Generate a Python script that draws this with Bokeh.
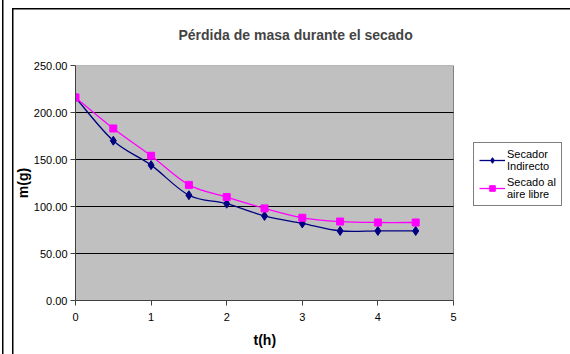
from bokeh.plotting import figure
from bokeh.models import (Range1d, FixedTicker, NumeralTickFormatter, Legend, LegendItem,
                          ColumnDataSource, Title)
from bokeh.embed import file_html
from bokeh.resources import INLINE

t_h = [0, 0.5, 1, 1.5, 2, 2.5, 3, 3.5, 4, 4.5]
secador_indirecto = [216, 170, 144, 112, 103, 90, 82, 74, 74, 74]
secado_aire_libre = [216, 183, 154, 123, 110, 98, 88, 84, 83, 83]
x_ticks = [0, 1, 2, 3, 4, 5]
y_ticks = [0, 50, 100, 150, 200, 250]
series_names = ["Secador\nIndirecto", "Secado al\naire libre"]
title_text = "Pérdida de masa durante el secado"
x_label = "t(h)"
y_label = "m(g)"

FONT = "Liberation Sans"

# layout (pixels)
W, H = 570, 354
F_LEFT, F_TOP, F_BOTTOM = 75, 65, 300
AXIS_RIGHT = 453          # pixel where x = last tick
F_RIGHT = 565             # frame extends right to hold the legend

x_min, x_max = x_ticks[0], x_ticks[-1]
x_end = x_min + (x_max - x_min) * (F_RIGHT - F_LEFT) / (AXIS_RIGHT - F_LEFT)

p = figure(width=W, height=H, output_backend="svg", toolbar_location=None,
           x_range=Range1d(x_min, x_end), y_range=Range1d(y_ticks[0], y_ticks[-1]),
           min_border_left=F_LEFT, min_border_right=W - F_RIGHT,
           min_border_top=F_TOP, min_border_bottom=H - F_BOTTOM)
p.background_fill_color = "white"
p.border_fill_alpha = 0
p.outline_line_color = None
p.styles = {
    "background-image": "linear-gradient(black, black), linear-gradient(black, black), "
                        "linear-gradient(black, black)",
    "background-size": "1.5px 100%, 1.5px 100%, 100% 1.5px",
    "background-position": "2px 0px, 12px 8px, 12px 8px",
    "background-repeat": "no-repeat",
    "background-color": "white",
}

p.title.text = title_text
p.title.text_font = FONT
p.title.text_font_size = "14px"
p.title.text_font_style = "bold"
p.title.align = "left"
p.title.offset = 103
p.title.standoff = 45

p.xgrid.visible = False
p.ygrid.visible = False

# plot area and horizontal gridlines
p.quad(left=[x_min], right=[x_max], bottom=[y_ticks[0]], top=[y_ticks[-1]],
       fill_color="#C0C0C0", line_color="#808080", line_width=1)
p.segment(x0=[x_min] * (len(y_ticks) - 2), x1=[x_max] * (len(y_ticks) - 2),
          y0=y_ticks[1:-1], y1=y_ticks[1:-1], line_color="black", line_width=1)

for ax in (p.xaxis[0], p.yaxis[0]):
    ax.axis_line_color = "#404040"
    ax.major_tick_line_color = "#404040"
    ax.major_tick_out = 5
    ax.major_tick_in = 0
    ax.minor_tick_out = 0
    ax.minor_tick_in = 0
    ax.major_label_text_font = FONT
    ax.major_label_text_font_size = "11px"
    ax.major_label_text_color = "black"
    ax.axis_label_text_font = FONT
    ax.axis_label_text_font_size = "14px"
    ax.axis_label_text_font_style = "bold"
    ax.axis_label_text_color = "black"

p.xaxis.ticker = FixedTicker(ticks=x_ticks)
p.xaxis.bounds = (x_min, x_max)
p.yaxis.ticker = FixedTicker(ticks=y_ticks)
p.yaxis.formatter = NumeralTickFormatter(format="0.00")
p.yaxis.axis_label = y_label
p.xaxis.major_label_standoff = 7
p.yaxis.major_label_standoff = 3
p.yaxis.axis_label_standoff = 0

# x-axis title centred under the plot area (0..5), not the whole frame
p.add_layout(Title(text=x_label, text_font=FONT, text_font_size="14px", text_font_style="bold",
                   text_color="black", align="left", offset=178, standoff=12), "below")


def smooth_source(xs, ys):
    # Excel-like smoothed line drawn through the data points
    n = len(xs)
    d = dict(x0=[], y0=[], x1=[], y1=[], cx0=[], cy0=[], cx1=[], cy1=[])
    for i in range(n - 1):
        xp, yp = (xs[i - 1], ys[i - 1]) if i > 0 else (xs[i], ys[i])
        xn, yn = (xs[i + 2], ys[i + 2]) if i + 2 < n else (xs[i + 1], ys[i + 1])
        d["x0"].append(xs[i]); d["y0"].append(ys[i])
        d["x1"].append(xs[i + 1]); d["y1"].append(ys[i + 1])
        d["cx0"].append(xs[i] + (xs[i + 1] - xp) / 6)
        d["cy0"].append(ys[i] + (ys[i + 1] - yp) / 6)
        d["cx1"].append(xs[i + 1] - (xn - xs[i]) / 6)
        d["cy1"].append(ys[i + 1] - (yn - ys[i]) / 6)
    return ColumnDataSource(d)


colors = ["#000080", "#FF00FF"]
markers = ["diamond", "square"]
sizes = [9, 7]
items = []
for ys, name, c, m, s in zip([secador_indirecto, secado_aire_libre], series_names, colors, markers, sizes):
    src = smooth_source(t_h, ys)
    b = p.bezier(x0="x0", y0="y0", x1="x1", y1="y1", cx0="cx0", cy0="cy0", cx1="cx1", cy1="cy1",
                 source=src, line_color=c, line_width=1.3)
    sc = p.scatter(x=t_h, y=ys, marker=m, size=s, fill_color=c, line_color=c)
    items.append(LegendItem(label=name, renderers=[b, sc], index=0))

legend = Legend(items=items, location=(398, 94), border_line_color="black", border_line_width=1,
                label_text_font=FONT, label_text_font_size="11px", label_text_color="black",
                glyph_width=26, glyph_height=14, padding=5, spacing=4, label_standoff=2,
                background_fill_color="white", background_fill_alpha=1.0, margin=0,
                label_text_line_height=1.25)
p.add_layout(legend, "center")

open("out.html", "w").write(file_html(p, INLINE))
